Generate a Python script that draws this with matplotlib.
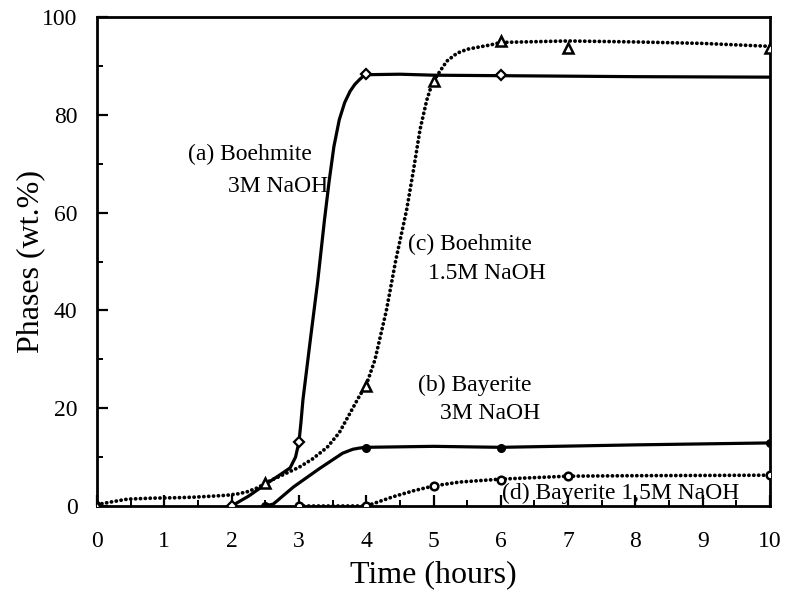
import matplotlib
matplotlib.use("Agg")
import matplotlib.pyplot as plt
from matplotlib.ticker import MultipleLocator

plt.rcParams['font.family'] = ['Liberation Serif', 'DejaVu Serif']

# ---- measured data points (markers) ----
a_t = [0, 2, 3, 4, 6]
a_y = [0, 0, 13.1, 88.3, 88.1]          # (a) Boehmite 3M NaOH

b_t = [2.5, 4, 6, 10]
b_y = [0, 11.9, 11.9, 12.9]             # (b) Bayerite 3M NaOH

c_t = [0, 2.5, 4, 5, 6, 7, 10]
c_y = [0, 4.7, 24.5, 86.9, 95.1, 93.7, 93.7]   # (c) Boehmite 1.5M NaOH

d_t = [3, 4, 5, 6, 7, 10]
d_y = [0, 0, 4.1, 5.3, 6.1, 6.3]        # (d) Bayerite 1.5M NaOH

# ---- fitted curves ----
ca_t = [2.0, 2.25, 2.5, 2.7, 2.87, 2.95, 3.0, 3.03, 3.06, 3.17, 3.28, 3.38, 3.45, 3.52, 3.6, 3.68, 3.76, 3.83, 3.9, 3.95, 4.0, 4.5, 5.0, 6.0, 8.0, 10.0]
ca_y = [0.0, 2.0, 4.4, 6.2, 7.8, 10.0, 13.0, 17.0, 21.7, 34.0, 46.0, 58.5, 66.5, 73.5, 79.0, 82.5, 84.8, 86.2, 87.2, 87.8, 88.2, 88.3, 88.1, 88.0, 87.8, 87.7]

cb_t = [2.5, 2.62, 2.92, 3.3, 3.65, 3.8, 3.9, 4.0, 5.0, 6.0, 8.0, 10.0]
cb_y = [0.0, 0.4, 3.9, 7.6, 10.8, 11.6, 11.85, 12.0, 12.2, 12.0, 12.5, 12.9]

cc_t = [0.0, 0.2, 0.45, 0.8, 1.2, 1.43, 1.7, 1.93, 2.1, 2.23, 2.4, 2.5, 2.75, 3.0, 3.2, 3.42, 3.6, 3.76, 3.9, 4.0, 4.13, 4.3, 4.44, 4.6, 4.7, 4.8, 4.9, 4.97, 5.02, 5.1, 5.2, 5.35, 5.5, 5.69, 5.85, 6.0, 7.0, 8.0, 9.0, 10.0]
cc_y = [0.3, 0.8, 1.4, 1.6, 1.7, 1.8, 2.0, 2.2, 2.5, 2.9, 3.8, 4.7, 6.3, 7.9, 9.6, 12.0, 15.0, 19.0, 22.5, 24.7, 29.9, 40.0, 50.3, 60.5, 68.5, 77.0, 83.0, 86.0, 87.3, 89.0, 91.0, 92.6, 93.4, 93.9, 94.3, 94.8, 95.1, 94.9, 94.6, 94.0]

cd_t = [3.0, 4.0, 4.15, 4.4, 4.7, 5.0, 5.39, 5.7, 6.0, 6.5, 7.0, 8.0, 10.0]
cd_y = [0.0, 0.0, 0.7, 1.9, 3.1, 4.1, 4.9, 5.2, 5.5, 5.8, 6.1, 6.2, 6.3]

x_ticks = list(range(0, 11))
y_ticks = [0, 20, 40, 60, 80, 100]

fig = plt.figure(figsize=(7.88, 5.96), dpi=100)
ax = fig.add_axes([97/788, 1-506/596, (770-97)/788, (506-17)/596])

lw = 2.3
dot = (0, (0.05, 1.25))
ax.plot(ca_t, ca_y, color='black', lw=lw, solid_capstyle='round', solid_joinstyle='round', zorder=3)
ax.plot(cb_t, cb_y, color='black', lw=lw, solid_capstyle='round', solid_joinstyle='round', zorder=3)
ax.plot(cc_t, cc_y, color='black', lw=2.7, linestyle=dot, dash_capstyle='round', zorder=3)
ax.plot(cd_t, cd_y, color='black', lw=2.7, linestyle=dot, dash_capstyle='round', zorder=3)

ax.plot(a_t, a_y, linestyle='none', marker='D', ms=5, mfc='white', mec='black', mew=1.6, zorder=4)
ax.plot(b_t, b_y, linestyle='none', marker='o', ms=5.5, mfc='black', mec='black', zorder=4)
ax.plot(c_t, c_y, linestyle='none', marker='^', ms=6.5, mfc='white', mec='black', mew=1.8, zorder=4)
ax.plot(d_t, d_y, linestyle='none', marker='o', ms=5.5, mfc='white', mec='black', mew=1.8, zorder=4)

ax.set_xlim(0, 10)
ax.set_ylim(0, 100)
ax.set_xticks(x_ticks)
ax.set_yticks(y_ticks)
ax.xaxis.set_minor_locator(MultipleLocator(0.5))
ax.yaxis.set_minor_locator(MultipleLocator(10))
ax.tick_params(which='major', direction='in', length=8, width=1.6, labelsize=17)
ax.tick_params(which='minor', direction='in', length=4, width=1.4)
ax.tick_params(axis='x', which='major', pad=18)
ax.tick_params(axis='y', which='major', pad=14)
for s in ax.spines.values():
    s.set_linewidth(2.0)

ax.set_xlabel('Time (hours)', fontsize=23, labelpad=6)
ax.set_ylabel('Phases (wt.%)', fontsize=23, labelpad=-2)

fs = 17
ax.text(1.35, 71.8, '(a) Boehmite', fontsize=fs, ha='left', va='center')
ax.text(1.95, 65.4, '3M NaOH', fontsize=fs, ha='left', va='center')
ax.text(4.62, 53.4, '(c) Boehmite', fontsize=fs, ha='left', va='center')
ax.text(4.92, 47.6, '1.5M NaOH', fontsize=fs, ha='left', va='center')
ax.text(4.77, 24.6, '(b) Bayerite', fontsize=fs, ha='left', va='center')
ax.text(5.1, 19.0, '3M NaOH', fontsize=fs, ha='left', va='center')
ax.text(6.02, 2.6, '(d) Bayerite 1,5M NaOH', fontsize=fs, ha='left', va='center')

fig.savefig('out.png', dpi=100)
